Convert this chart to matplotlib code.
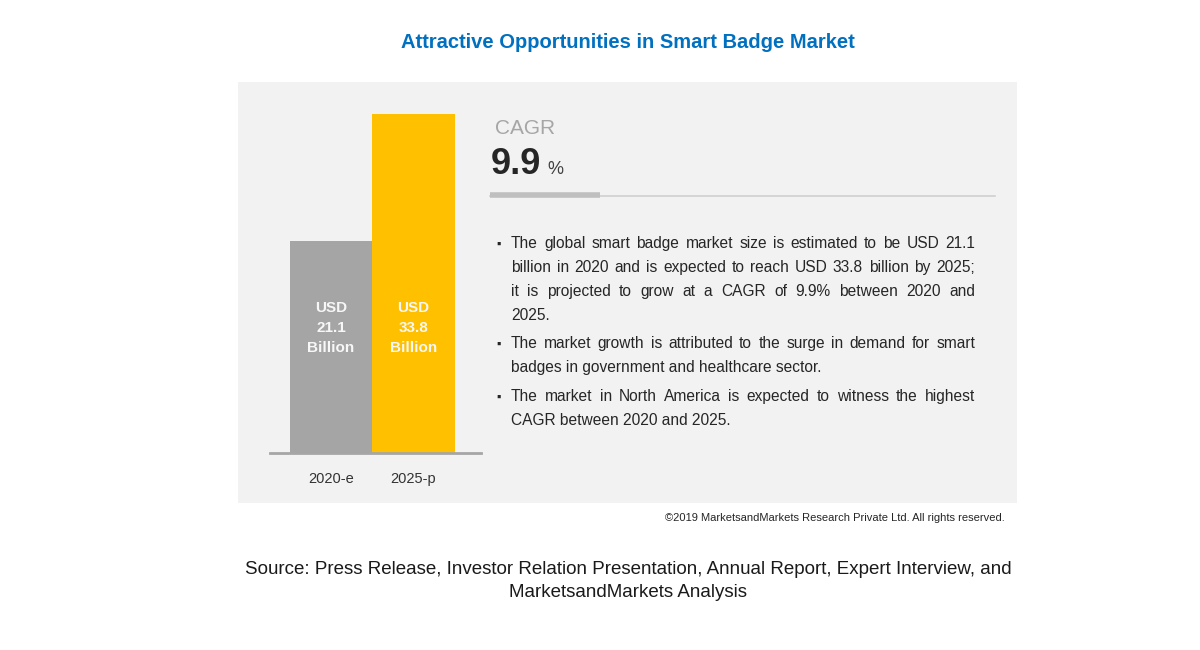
import matplotlib
matplotlib.use("Agg")
import matplotlib.pyplot as plt
from matplotlib.patches import Rectangle

plt.rcParams['font.family'] = ['Liberation Sans', 'DejaVu Sans']

# data
years = ["2020-e", "2025-p"]
values = [21.1, 33.8]
bar_colors = ["#A5A5A5", "#FFC000"]
cagr = "9.9"
title = "Attractive Opportunities in Smart Badge Market"
bullets = [
    ["The global smart badge market size is estimated to be USD 21.1",
     "billion in 2020 and is expected to reach USD 33.8 billion by 2025;",
     "it is projected to grow at a CAGR of 9.9% between 2020 and",
     "2025."],
    ["The market growth is attributed to the surge in demand for smart",
     "badges in government and healthcare sector."],
    ["The market in North America is expected to witness the highest",
     "CAGR between 2020 and 2025."],
]
copyright_txt = "\u00a92019 MarketsandMarkets Research Private Ltd. All rights reserved."
source_txt = ("Source: Press Release, Investor Relation Presentation, Annual Report, Expert Interview, and\n"
              "MarketsandMarkets Analysis")

W, H = 1200, 650
fig = plt.figure(figsize=(12, 6.5), dpi=100)
fig.patch.set_facecolor("white")


def px(x, y):
    # pixel position (from top-left) to figure coords
    return x / W, 1 - y / H


# grey panel
x0, y0 = px(238, 503)
fig.patches.append(Rectangle((x0, y0), (1017 - 238) / W, (503 - 82) / H,
                             transform=fig.transFigure, facecolor="#F2F2F2",
                             edgecolor="none", zorder=-5))

# title
fig.text(*px(628, 42), title, ha="center", va="center", fontsize=14.5,
         fontweight="bold", color="#0070C0")

# bar chart
ax = fig.add_axes([270 / W, (H - 453) / H, 211 / W, (453 - 114) / H])
ax.set_facecolor("none")
ax.set_zorder(2)
pos = list(range(len(years)))
ax.bar(pos, values, width=1.0, color=bar_colors, zorder=2)
ax.set_xlim(-0.74, 1.82)
ax.set_ylim(0, max(values))
for s in ["top", "right", "left"]:
    ax.spines[s].set_visible(False)
ax.spines["bottom"].set_color("#A6A6A6")
ax.spines["bottom"].set_linewidth(2)
ax.spines["bottom"].set_zorder(3)
ax.set_yticks([])
ax.set_xticks(pos)
ax.set_xticklabels(years, fontsize=10.5, color="#333333")
ax.tick_params(axis="x", length=0, pad=14)
# value labels, all at the same height (px ~ 328)
lab_y = ax.transAxes.inverted().transform(fig.transFigure.transform(px(0, 328)))[1]
for p, v in zip(pos, values):
    ax.text(p, lab_y, "USD\n%.1f\nBillion" % v, transform=ax.get_xaxis_transform(),
            ha="center", va="center", color="#F7F7F7", fontsize=11,
            fontweight="bold", linespacing=1.5, zorder=4)

# CAGR block
fig.text(*px(495, 128), "CAGR", ha="left", va="center", fontsize=15, color="#A6A6A6")
fig.text(*px(491, 164), cagr, ha="left", va="center", fontsize=26,
         fontweight="bold", color="#262626")
fig.text(*px(547, 170), "%", ha="left", va="center", fontsize=13, color="#404040")
fig.add_artist(plt.Line2D([490 / W, 995 / W], [px(0, 196)[1]] * 2,
                          color="#D0D0D0", lw=1.2, transform=fig.transFigure))
fig.add_artist(plt.Line2D([490 / W, 600 / W], [px(0, 195)[1]] * 2,
                          color="#BFBFBF", lw=4, transform=fig.transFigure,
                          solid_capstyle="butt"))

# bullet text, justified (baseline a few px below line centre)
renderer = fig.canvas.get_renderer()
tx_left, tx_right = 511, 975
fs = 11.2
line_ys = [[243, 267, 291, 315], [343, 367], [396, 420]]
base_off = 5


def word_width(w):
    t = fig.text(0, 0, w, fontsize=fs)
    bb = t.get_window_extent(renderer)
    t.remove()
    return bb.width


for para, ys in zip(bullets, line_ys):
    fig.text(*px(496, ys[0] + base_off), "\u25aa", ha="left", va="baseline",
             fontsize=9, color="#262626")
    for i, (line, y) in enumerate(zip(para, ys)):
        yb = y + base_off
        last = i == len(para) - 1
        if last:
            fig.text(*px(tx_left, yb), line, ha="left", va="baseline", fontsize=fs,
                     color="#262626")
            continue
        words = line.split()
        widths = [word_width(w) for w in words]
        gap = (tx_right - tx_left - sum(widths)) / (len(words) - 1)
        x = tx_left
        for w, ww in zip(words, widths):
            fig.text(*px(x, yb), w, ha="left", va="baseline", fontsize=fs, color="#262626")
            x += ww + gap

# copyright and source
fig.text(*px(1005, 518), copyright_txt, ha="right", va="center", fontsize=8, color="#262626")
fig.text(*px(628, 581), source_txt, ha="center", va="center", fontsize=13.5,
         color="#1a1a1a", linespacing=1.45)

fig.savefig("out.png", dpi=100, facecolor="white")
